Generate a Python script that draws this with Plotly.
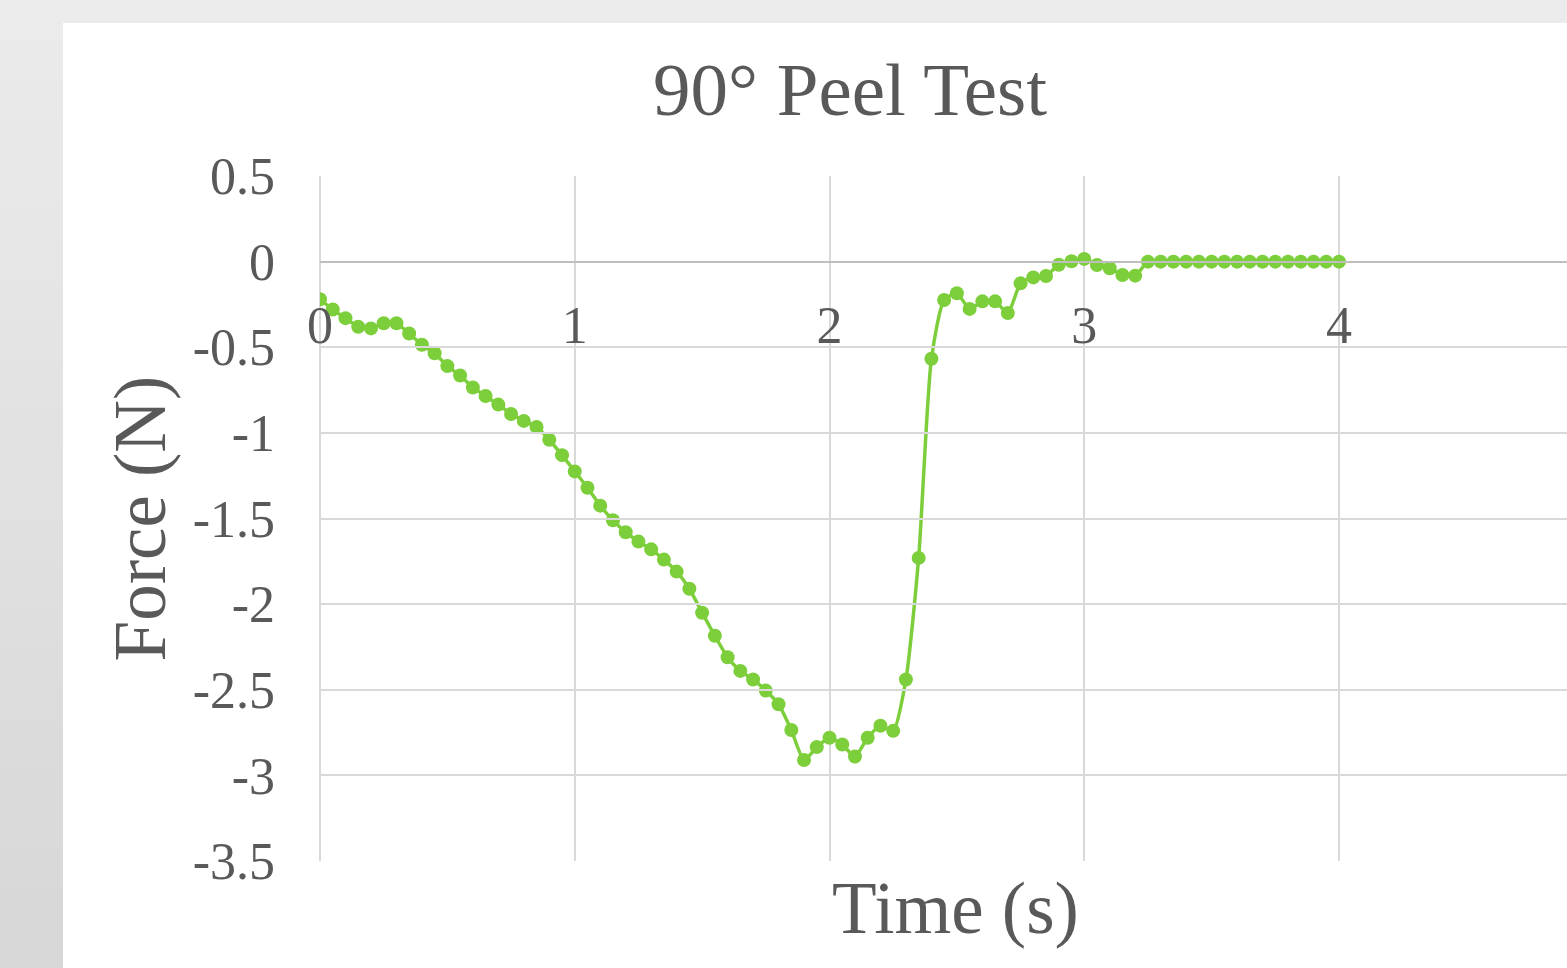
import plotly.graph_objects as go

# ---- data ----
time_s = [round(i * 0.05, 2) for i in range(81)]
force_n = [
    -0.22, -0.28, -0.33, -0.38, -0.39, -0.36, -0.36, -0.42, -0.485, -0.535,
    -0.61, -0.665, -0.735, -0.785, -0.835, -0.89, -0.93, -0.965, -1.04, -1.13,
    -1.225, -1.32, -1.425, -1.51, -1.58, -1.635, -1.68, -1.74, -1.81, -1.91,
    -2.05, -2.185, -2.31, -2.39, -2.44, -2.505, -2.585, -2.735, -2.91, -2.835,
    -2.78, -2.82, -2.89, -2.78, -2.71, -2.74, -2.44, -1.73, -0.567, -0.224,
    -0.185, -0.276, -0.232, -0.232, -0.30, -0.127, -0.092, -0.084, -0.018, 0.002,
    0.016, -0.02, -0.039, -0.078, -0.082, 0.0, 0.0, 0.0, 0.0, 0.0,
    0.0, 0.0, 0.0, 0.0, 0.0, 0.0, 0.0, 0.0, 0.0, 0.0, 0.0,
]
x_tick_vals = [0, 1, 2, 3, 4]
x_tick_text = ["0", "1", "2", "3", "4"]
y_tick_vals = [0.5, 0, -0.5, -1, -1.5, -2, -2.5, -3, -3.5]
y_tick_text = ["0.5", "0", "-0.5", "-1", "-1.5", "-2", "-2.5", "-3", "-3.5"]

W, H = 1567, 968
L, T, B = 320, 176, 107
plot_w = W - L
plot_h = H - T - B
x_max = plot_w / 254.75
FONT = "Liberation Serif"
TXT = "#595959"
GREEN = "#7ccf3b"

fig = go.Figure()
fig.add_trace(go.Scatter(
    x=time_s, y=force_n, mode="lines+markers",
    line=dict(color=GREEN, width=3.5, shape="spline", smoothing=0.6),
    marker=dict(color=GREEN, size=14),
    showlegend=False, hoverinfo="x+y",
))
# empty trace so the bottom title axis is drawn
fig.add_trace(go.Scatter(x=[None], y=[None], xaxis="x2", yaxis="y",
                         showlegend=False, hoverinfo="skip"))


def py_to_paper(py):
    return (H - B - py) / plot_h


def px_to_paper(px):
    return (px - L) / plot_w


# background: grey surround (vertical gradient) with a white chart area
shapes = []
n_bands = 24
c0 = (235, 235, 235)
c1 = (215, 215, 215)
for i in range(n_bands):
    f = i / (n_bands - 1)
    c = tuple(int(round(a + (b - a) * f)) for a, b in zip(c0, c1))
    top = i * H / n_bands
    bot = (i + 1) * H / n_bands
    shapes.append(dict(
        type="rect", xref="paper", yref="paper", layer="below",
        x0=px_to_paper(-2), x1=px_to_paper(W + 5),
        y0=py_to_paper(bot + 1), y1=py_to_paper(top - 1),
        fillcolor="rgb(%d,%d,%d)" % c, line=dict(width=0),
    ))
shapes.append(dict(
    type="rect", xref="paper", yref="paper", layer="below",
    x0=px_to_paper(63), x1=px_to_paper(W + 5),
    y0=py_to_paper(H + 5), y1=py_to_paper(23),
    fillcolor="white", line=dict(width=0),
))

fig.update_layout(
    width=W, height=H,
    margin=dict(l=L, r=0, t=T, b=B, pad=0),
    paper_bgcolor="#e6e6e6",
    plot_bgcolor="rgba(0,0,0,0)",
    font=dict(family=FONT, color=TXT),
    shapes=shapes,
    title=dict(
        text="90° Peel Test", font=dict(family=FONT, size=75, color=TXT),
        x=850 / W, xref="container", xanchor="center",
        y=1 - 89 / H, yref="container", yanchor="middle",
    ),
    xaxis=dict(
        range=[0, x_max], anchor="free", position=0.875,
        tickvals=x_tick_vals, ticktext=x_tick_text,
        tickfont=dict(family=FONT, size=52, color=TXT),
        ticks="", ticklabelstandoff=28,
        showgrid=True, gridcolor="#d9d9d9", gridwidth=1.5,
        zeroline=True, zerolinecolor="#d9d9d9", zerolinewidth=1.5,
        showline=False,
    ),
    xaxis2=dict(
        range=[0, 1], anchor="y", side="bottom",
        domain=[px_to_paper(344), 1.0],
        showticklabels=False, showgrid=False, zeroline=False, showline=False,
        ticks="",
        title=dict(text="Time (s)", font=dict(family=FONT, size=73, color=TXT),
                   standoff=20),
    ),
    yaxis=dict(
        range=[-3.5, 0.5],
        tickvals=y_tick_vals, ticktext=y_tick_text,
        tickfont=dict(family=FONT, size=52, color=TXT),
        ticks="", ticklabelstandoff=44,
        showgrid=True, gridcolor="#d9d9d9", gridwidth=1.5,
        zeroline=True, zerolinecolor="#bfbfbf", zerolinewidth=1.5,
        showline=False,
        title=dict(text="Force (N)", font=dict(family=FONT, size=73, color=TXT),
                   standoff=3),
    ),
)

fig.write_html(
    "out.html",
    config={"displayModeBar": False},
    post_script="document.body.style.margin='0';document.body.style.overflow='hidden';",
)
